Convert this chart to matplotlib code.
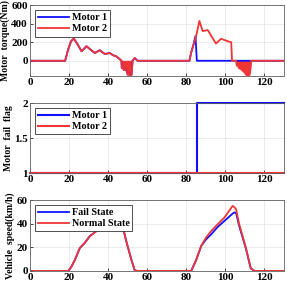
import matplotlib
matplotlib.use("Agg")
import matplotlib.pyplot as plt

# torque data (Nm)
t_torque = [0, 18, 19.5, 21, 22.4, 24, 26.4, 28.9, 31, 33.2, 35.7, 38.3, 40.8, 42.5, 44.2, 45.9,
            46.8, 47.0, 47.5, 48.0, 48.5, 49.0, 49.5, 50.0, 50.5, 51.0, 51.5, 52.0, 52.5,
            53.6, 55, 81.6, 82.5, 83.5, 84.7, 85.4, 86.7, 88.4, 91, 93, 95.2, 97.8, 101.2, 103, 103.4,
            105.5, 105.8, 106.5, 107, 108, 109, 110, 110.5, 111.5, 112.5, 113, 113.3, 130]
motor2_torque = [0, 0, 120, 210, 240, 190, 102, 157, 120, 84, 113, 73, 84, 60, 47, 18,
                 0, -80, -60, -100, -80, -100, -110, -150, -130, -160, -160, -150, 0,
                 30, 0, 0, 90, 160, 240, 300, 430, 320, 331, 260, 186, 237, 211, 200, 0,
                 0, -50, -60, -80, -90, -110, -130, -150, -160, -150, -60, 0, 0]
motor1_torque = [0, 0, 120, 210, 240, 190, 102, 157, 120, 84, 113, 73, 84, 60, 47, 18,
                 0, -80, -60, -100, -80, -100, -110, -150, -130, -160, -160, -150, 0,
                 30, 0, 0, 90, 160, 265, 0, 0, 0, 0, 0, 0, 0, 0, 0, 0,
                 0, 0, 0, 0, 0, 0, 0, 0, 0, 0, 0, 0, 0]

# fail flags
t_flag = [0, 85.5, 85.5, 130]
motor1_flag = [1, 1, 2, 2]
motor2_flag = [1, 1, 1, 1]

# vehicle speed (km/h)
t_speed = [0, 19.6, 21, 23, 25.5, 28, 30.6, 34, 37.4, 40, 43, 46, 47.6, 49.3, 51.9, 53.6, 55,
           82.5, 85, 87.6, 90, 92.7, 96, 99.5, 102, 103.7, 104.6, 105.5, 107, 110.5, 113, 115, 130]
normal_speed = [0, 0, 3, 9.4, 19.4, 23.7, 29.4, 33.7, 35.7, 37, 38, 38.5, 36.6, 25, 9.4, 0.5, 0,
                0, 9, 21, 28, 33.7, 39.4, 45.2, 51, 55, 54, 52, 40, 19.5, 2.3, 0, 0]
fail_speed = [0, 0, 3, 9.4, 19.4, 23.7, 29.4, 33.7, 35.7, 37, 38, 38.5, 36.6, 25, 9.4, 0.5, 0,
              0, 9, 21, 26.5, 30.9, 37.1, 42.3, 46, 48.5, 49.5, 49, 38.5, 19, 2, 0, 0]

xticks = [0, 20, 40, 60, 80, 100, 120]

plt.rcParams['font.family'] = 'Liberation Serif'
plt.rcParams['font.weight'] = 'bold'

blue = '#1010ff'
red = '#f03535'

fig = plt.figure(figsize=(2.87, 2.87), dpi=100)
ax1 = fig.add_axes([0.1045, 0.735, 0.885, 0.247])
ax2 = fig.add_axes([0.1045, 0.397, 0.885, 0.244])
ax3 = fig.add_axes([0.1045, 0.056, 0.885, 0.247])

# torque
ax1.fill_between(t_torque, motor2_torque, 0, where=[v < 0 for v in motor2_torque],
                 color=red, lw=0, interpolate=True)
ax1.plot(t_torque, motor1_torque, color=blue, lw=1.3, label='Motor 1')
ax1.plot(t_torque, motor2_torque, color=red, lw=1.3, label='Motor 2')
ax1.set_ylim(-165, 600)
ax1.set_yticks([0, 200, 400, 600])
ax1.set_ylabel('Motor  torque(Nm)', fontsize=7, fontweight='bold', labelpad=1)

# fail flag
ax2.plot(t_flag, motor1_flag, color=blue, lw=1.5, label='Motor 1', clip_on=False)
ax2.plot(t_flag, motor2_flag, color=red, lw=1.5, label='Motor 2', clip_on=False)
ax2.set_ylim(1, 2)
ax2.set_yticks([1, 1.5, 2])
ax2.set_yticklabels(['1', '1.5', '2'])
ax2.set_ylabel('Motor  fail  flag', fontsize=7, fontweight='bold', labelpad=1)

# speed
ax3.plot(t_speed, fail_speed, color=blue, lw=1.3, label='Fail State')
ax3.plot(t_speed, normal_speed, color=red, lw=1.3, label='Normal State')
ax3.set_ylim(0, 60)
ax3.set_yticks([0, 20, 40, 60])
ax3.set_ylabel('Vehicle  speed(km/h)', fontsize=7, fontweight='bold', labelpad=1)

for ax in (ax1, ax2, ax3):
    ax.set_xlim(0, 130)
    ax.set_xticks(xticks)
    ax.grid(True, color='#e3e3e3', lw=0.5)
    ax.set_axisbelow(True)
    ax.tick_params(direction='in', length=2, labelsize=8, pad=1.5, width=0.5)
    for lab in ax.get_xticklabels() + ax.get_yticklabels():
        lab.set_fontweight('bold')
    for s in ax.spines.values():
        s.set_color('#606060')
        s.set_linewidth(0.6)
    leg = ax.legend(loc='upper left', handlelength=3.0, handletextpad=0.3,
                    borderpad=0.3, labelspacing=0.2, fancybox=False, framealpha=1,
                    edgecolor='#333333', prop={'weight': 'bold', 'size': 7.3})
    leg.get_frame().set_linewidth(0.6)

fig.savefig('out.png', dpi=100)
